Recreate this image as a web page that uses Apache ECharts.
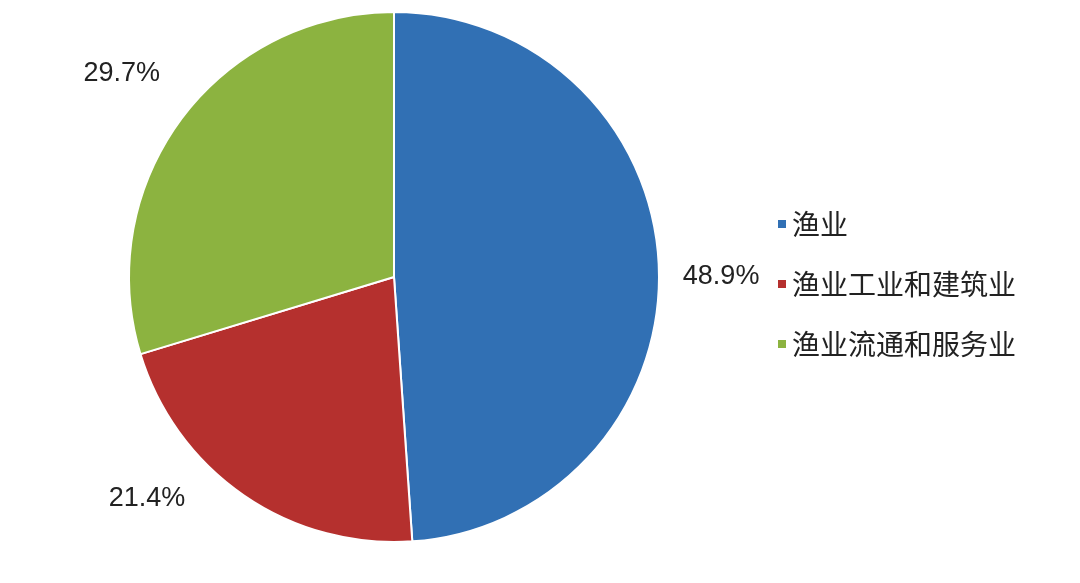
<!DOCTYPE html>
<html>
<head>
<meta charset="utf-8">
<script src="https://cdn.jsdelivr.net/npm/echarts@6/dist/echarts.min.js"></script>
<style>html,body{margin:0;padding:0;background:#fff;}#c{width:1080px;height:583px;}</style>
</head>
<body>
<div id="c"></div>
<script>
const categories = ['渔业', '渔业工业和建筑业', '渔业流通和服务业'];
const values = [48.9, 21.4, 29.7];
const colors = ['#3170b4', '#b5302e', '#8cb340'];
const labelShift = [[-11, 9], [-32, -13], [10, -34]];

const chart = echarts.init(document.getElementById('c'));
chart.setOption({
  animation: false,
  color: colors,
  legend: {
    orient: 'vertical',
    left: 771,
    top: 205,
    itemWidth: 10,
    itemHeight: 10,
    itemGap: 32,
    icon: 'rect',
    textStyle: { fontFamily: 'Noto Sans CJK SC', fontSize: 28, color: '#222' },
    data: categories
  },
  series: [{
    type: 'pie',
    center: [394, 277],
    radius: 265,
    startAngle: 90,
    clockwise: true,
    itemStyle: { borderColor: '#fff', borderWidth: 2 },
    label: {
      show: true,
      position: 'outside',
      formatter: p => p.value.toFixed(1) + '%',
      fontFamily: 'Liberation Sans',
      fontSize: 27,
      color: '#222'
    },
    labelLine: { show: false, length: 20, length2: 10 },
    labelLayout: p => ({ dx: labelShift[p.dataIndex][0], dy: labelShift[p.dataIndex][1] }),
    data: categories.map((n, i) => ({ name: n, value: values[i] }))
  }]
});
</script>
</body>
</html>
